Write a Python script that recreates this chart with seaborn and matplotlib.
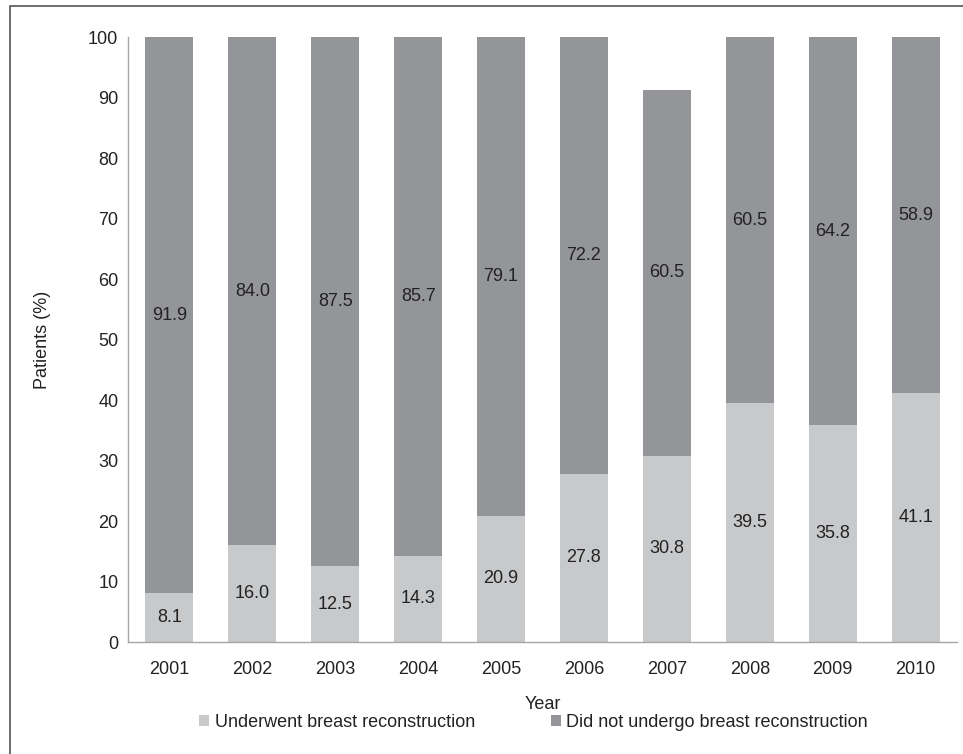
import matplotlib
matplotlib.use("Agg")
import matplotlib.pyplot as plt
from matplotlib.patches import Patch, Rectangle
import pandas as pd
import seaborn as sns

# Share of patients per year (%)
years = ["2001", "2002", "2003", "2004", "2005", "2006", "2007", "2008", "2009", "2010"]
underwent = [8.1, 16.0, 12.5, 14.3, 20.9, 27.8, 30.8, 39.5, 35.8, 41.1]
not_underwent = [91.9, 84.0, 87.5, 85.7, 79.1, 72.2, 60.5, 60.5, 64.2, 58.9]
series_names = ["Underwent breast reconstruction", "Did not undergo breast reconstruction"]
y_ticks = list(range(0, 101, 10))

LIGHT = "#c8c9cb"
DARK = "#949599"
TEXT = "#222222"
AXIS = "#a6a6a6"

sns.set_theme(style="white")
plt.rcParams["font.family"] = ["Liberation Sans", "DejaVu Sans"]

df = pd.DataFrame({"Year": years, "Underwent": underwent, "NotUnderwent": not_underwent})
df["Total"] = df["Underwent"] + df["NotUnderwent"]

fig = plt.figure(figsize=(9.63, 7.54), dpi=100)
ax = fig.add_axes([0.1329, 0.1485, 0.8609, 0.8024])

# Stacked bars: full stack first, lower segment drawn over it
sns.barplot(data=df, x="Year", y="Total", color=DARK, saturation=1, width=0.58,
            linewidth=0, edgecolor="none", ax=ax)
sns.barplot(data=df, x="Year", y="Underwent", color=LIGHT, saturation=1, width=0.58,
            linewidth=0, edgecolor="none", ax=ax)

for i, (u, d) in enumerate(zip(underwent, not_underwent)):
    ax.text(i, u / 2, f"{u:.1f}", ha="center", va="center", fontsize=13, color=TEXT)
    ax.text(i, u + d / 2, f"{d:.1f}", ha="center", va="center", fontsize=13, color=TEXT)

ax.set_xlim(-0.5, len(years) - 0.5)
ax.set_ylim(0, 100)
ax.set_yticks(y_ticks)
ax.set_yticklabels([str(t) for t in y_ticks])
ax.tick_params(axis="both", length=0, labelsize=13, labelcolor=TEXT)
ax.tick_params(axis="x", pad=14)
ax.tick_params(axis="y", pad=7)

for side in ("top", "right"):
    ax.spines[side].set_visible(False)
for side in ("left", "bottom"):
    ax.spines[side].set_color(AXIS)
    ax.spines[side].set_linewidth(1.0)

ax.set_xlabel("Year", fontsize=13, color=TEXT, va="center")
ax.set_ylabel("Patients (%)", fontsize=13, color=TEXT, va="center")
ax.xaxis.set_label_coords(0.5, -0.1025)
ax.yaxis.set_label_coords(-0.1037, 0.5)

handles = [Patch(facecolor=LIGHT, edgecolor="none"), Patch(facecolor=DARK, edgecolor="none")]
fig.legend(handles, series_names, loc="center", bbox_to_anchor=(0.554, 0.0424), ncol=2,
           frameon=False, fontsize=13, handlelength=0.55, handleheight=0.55,
           handletextpad=0.3, columnspacing=4.2, labelcolor=TEXT)

# Outer frame around the figure
fig.patches.append(Rectangle((10 / 963, -0.05), 1.2, 0.992 + 0.05, transform=fig.transFigure,
                             fill=False, edgecolor="#555555", linewidth=1.2))

fig.savefig("out.png", dpi=100)
